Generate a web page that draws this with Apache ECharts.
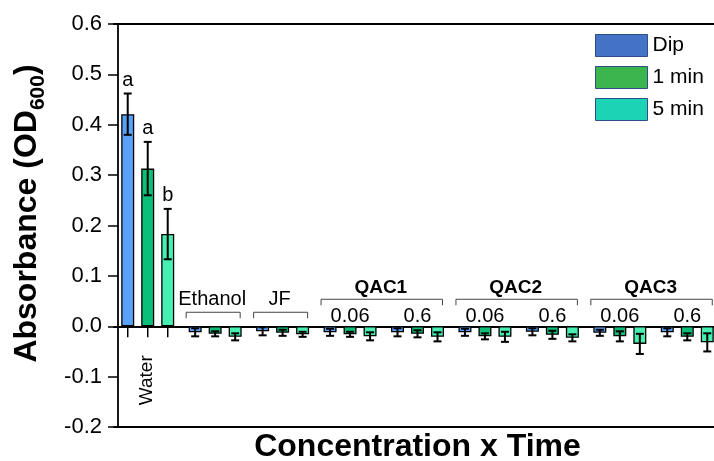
<!DOCTYPE html>
<html>
<head>
<meta charset="utf-8">
<title>Absorbance</title>
<script src="https://cdn.jsdelivr.net/npm/echarts@6/dist/echarts.min.js"></script>
<style>
    html, body { margin: 0; padding: 0; background: #fff; }
    #chart { width: 714px; height: 461px; }
</style>
</head>
<body>
<div id="chart"></div>
<script>
// data
var categories = ['Water', 'Ethanol', 'JF', 'QAC1 0.06', 'QAC1 0.6', 'QAC2 0.06', 'QAC2 0.6', 'QAC3 0.06', 'QAC3 0.6'];
var concLabels = ['Water', '', '', '0.06', '0.6', '0.06', '0.6', '0.06', '0.6'];
var groupNames = ['Ethanol', 'JF', 'QAC1', 'QAC2', 'QAC3'];
var groupFirst = [1, 2, 3, 5, 7];
var groupLast = [1, 2, 4, 6, 8];

var seriesNames = ['Dip', '1 min', '5 min'];
var dipMean = [0.421, -0.012, -0.010, -0.012, -0.012, -0.012, -0.011, -0.013, -0.012];
var dipErr = [0.041, 0.008, 0.008, 0.007, 0.008, 0.007, 0.007, 0.006, 0.008];
var oneMinMean = [0.313, -0.015, -0.013, -0.016, -0.015, -0.020, -0.017, -0.020, -0.021];
var oneMinErr = [0.053, 0.005, 0.006, 0.005, 0.007, 0.006, 0.008, 0.010, 0.007];
var fiveMinMean = [0.183, -0.021, -0.016, -0.020, -0.021, -0.021, -0.023, -0.035, -0.032];
var fiveMinErr = [0.050, 0.007, 0.005, 0.008, 0.009, 0.010, 0.007, 0.020, 0.018];
var waterLetters = ['a', 'a', 'b'];

var yTicks = [-0.2, -0.1, 0.0, 0.1, 0.2, 0.3, 0.4, 0.5, 0.6];

var FONT = '"Liberation Sans", Arial, sans-serif';
var BAR_W = 13;
var BAR_STEP = 20;
var barColors = ['#5AA2F8', '#0CBF78', '#46F0B2'];
var legendColors = ['#4472C4', '#3CB54C', '#1CD4B5'];
var means = [dipMean, oneMinMean, fiveMinMean];
var errs = [dipErr, oneMinErr, fiveMinErr];

function inGroup(i) {
    for (var g = 0; g < groupNames.length; g++) {
        if (i >= groupFirst[g] && i <= groupLast[g]) return true;
    }
    return false;
}

function barSeries(k) {
    return {
        name: seriesNames[k],
        type: 'bar',
        barWidth: BAR_W,
        barGap: ((BAR_STEP - BAR_W) / BAR_W * 100) + '%',
        data: means[k],
        itemStyle: {color: barColors[k], borderColor: '#000', borderWidth: 1.3},
        z: 2
    };
}

function errorSeries(k) {
    return {
        name: seriesNames[k] + ' err',
        type: 'custom',
        z: 5,
        data: categories.map(function (c, i) {
            return [i, means[k][i], errs[k][i]];
        }),
        encode: {x: 0, y: 1},
        renderItem: function (params, api) {
            var i = api.value(0), m = api.value(1), e = api.value(2);
            var x = api.coord([i, 0])[0] + (k - 1) * BAR_STEP;
            var yT = api.coord([i, m + e])[1];
            var yB = api.coord([i, m - e])[1];
            var st = {stroke: '#000', lineWidth: 2};
            var ch = [
                {type: 'line', shape: {x1: x, y1: yT, x2: x, y2: yB}, style: st},
                {type: 'line', shape: {x1: x - 4, y1: yT, x2: x + 4, y2: yT}, style: st},
                {type: 'line', shape: {x1: x - 4, y1: yB, x2: x + 4, y2: yB}, style: st}
            ];
            if (i === 0 && waterLetters[k]) {
                ch.push({
                    type: 'text',
                    style: {text: waterLetters[k], x: x, y: yT - 3, align: 'center', verticalAlign: 'bottom',
                        font: '20px ' + FONT, fill: '#000'}
                });
            }
            return {type: 'group', children: ch};
        }
    };
}

// labels on the category axis (concentrations, and the rotated one below the axis)
var labelSeries = {
    type: 'custom',
    name: 'labels',
    z: 6,
    silent: true,
    data: categories.map(function (c, i) { return [i, 0]; }),
    encode: {x: 0, y: 1},
    renderItem: function (params, api) {
        var i = api.value(0);
        var p = api.coord([i, 0]);
        var txt = concLabels[i];
        if (!txt) return null;
        if (!inGroup(i)) {
            var ch = [];
            for (var k = 0; k < 3; k++) {
                var x = p[0] + (k - 1) * BAR_STEP;
                ch.push({type: 'line', shape: {x1: x, y1: p[1], x2: x, y2: p[1] + 11},
                    style: {stroke: '#000', lineWidth: 1.5}});
            }
            ch.push({
                type: 'text', x: p[0] - 1, y: p[1] + 54, rotation: Math.PI / 2,
                style: {text: txt, align: 'center', verticalAlign: 'middle', font: '19px ' + FONT, fill: '#000'}
            });
            return {type: 'group', children: ch};
        }
        return {
            type: 'text',
            style: {text: txt, x: p[0], y: p[1] - 10, align: 'center', verticalAlign: 'middle',
                font: '20px ' + FONT, fill: '#000'}
        };
    }
};

// brackets with group names
var groupSeries = {
    type: 'custom',
    name: 'groups',
    z: 6,
    silent: true,
    data: groupNames.map(function (n, g) { return [groupFirst[g], groupLast[g]]; }),
    encode: {x: [0, 1], y: -1},
    renderItem: function (params, api) {
        var g = params.dataIndex;
        var a = api.coord([groupFirst[g], 0]);
        var b = api.coord([groupLast[g], 0]);
        var multi = groupLast[g] > groupFirst[g];
        var xL = a[0] - 29, xR = b[0] + 25;
        var yb = a[1] - (multi ? 27 : 14);
        var yt = a[1] - (multi ? 38 : 27);
        return {
            type: 'group',
            children: [
                {type: 'polyline', shape: {points: [[xL, yb + 6], [xL, yb], [xR, yb], [xR, yb + 6]]},
                    style: {stroke: '#444', lineWidth: 1, fill: null}},
                {type: 'text', style: {text: groupNames[g], x: (xL + xR) / 2 - 1, y: yt, align: 'center',
                    verticalAlign: 'middle', font: (multi ? 'bold 19px ' : '20px ') + FONT, fill: '#000'}}
            ]
        };
    }
};

var myChart = echarts.init(document.getElementById('chart'), null, {renderer: 'canvas'});

var series = [];
for (var k = 0; k < 3; k++) series.push(barSeries(k));
for (var k2 = 0; k2 < 3; k2++) series.push(errorSeries(k2));
series.push(labelSeries, groupSeries);

myChart.setOption({
    animation: false,
    textStyle: {fontFamily: FONT},
    grid: {left: 114, right: -7, top: 24, bottom: 34, outerBoundsMode: 'none', containLabel: false},
    legend: {
        orient: 'vertical',
        left: 595,
        top: 34,
        padding: 0,
        itemWidth: 52,
        itemHeight: 22,
        itemGap: 9,
        selectedMode: false,
        textStyle: {fontSize: 21, color: '#000', fontFamily: FONT},
        data: seriesNames.map(function (n, k) {
            return {name: n, icon: 'rect',
                itemStyle: {color: legendColors[k], borderColor: '#2E4F86', borderWidth: 1}};
        })
    },
    xAxis: [
        {
            type: 'category', data: categories,
            axisLine: {onZero: true, lineStyle: {color: '#000', width: 1.8}},
            axisTick: {show: false}, axisLabel: {show: false}, splitLine: {show: false}
        },
        {
            type: 'category', data: categories, position: 'top',
            axisLine: {onZero: false, lineStyle: {color: '#000', width: 1.8}},
            axisTick: {show: false}, axisLabel: {show: false}
        },
        {
            type: 'category', data: categories, position: 'bottom',
            axisLine: {onZero: false, lineStyle: {color: '#000', width: 1.8}},
            axisTick: {show: false}, axisLabel: {show: false},
            name: 'Concentration x Time', nameLocation: 'middle', nameGap: 4,
            nameTextStyle: {fontSize: 32, fontWeight: 'bold', color: '#000', fontFamily: FONT}
        }
    ],
    yAxis: {
        type: 'value',
        min: yTicks[0], max: yTicks[yTicks.length - 1], interval: 0.1,
        offset: -4,
        axisLine: {show: true, lineStyle: {color: '#000', width: 1.8}},
        axisTick: {show: true, length: 10, lineStyle: {color: '#000', width: 1.5}},
        splitLine: {show: false},
        axisLabel: {
            fontSize: 22, color: '#000', margin: 16, fontFamily: FONT,
            formatter: function (v) { return v.toFixed(1); }
        },
        name: '{t|Absorbance (OD}{s|600}{t|)}',
        nameLocation: 'middle',
        nameGap: 72,
        nameRotate: 90,
        nameTextStyle: {
            padding: [0, 0, 0, 24],
            rich: {
                t: {fontSize: 32, fontWeight: 'bold', color: '#000', fontFamily: FONT, lineHeight: 35, verticalAlign: 'top'},
                s: {fontSize: 21, fontWeight: 'bold', color: '#000', fontFamily: FONT, lineHeight: 21,
                    verticalAlign: 'top', padding: [17, 0, 0, 0]}
            }
        }
    },
    series: series
});
</script>
</body>
</html>
